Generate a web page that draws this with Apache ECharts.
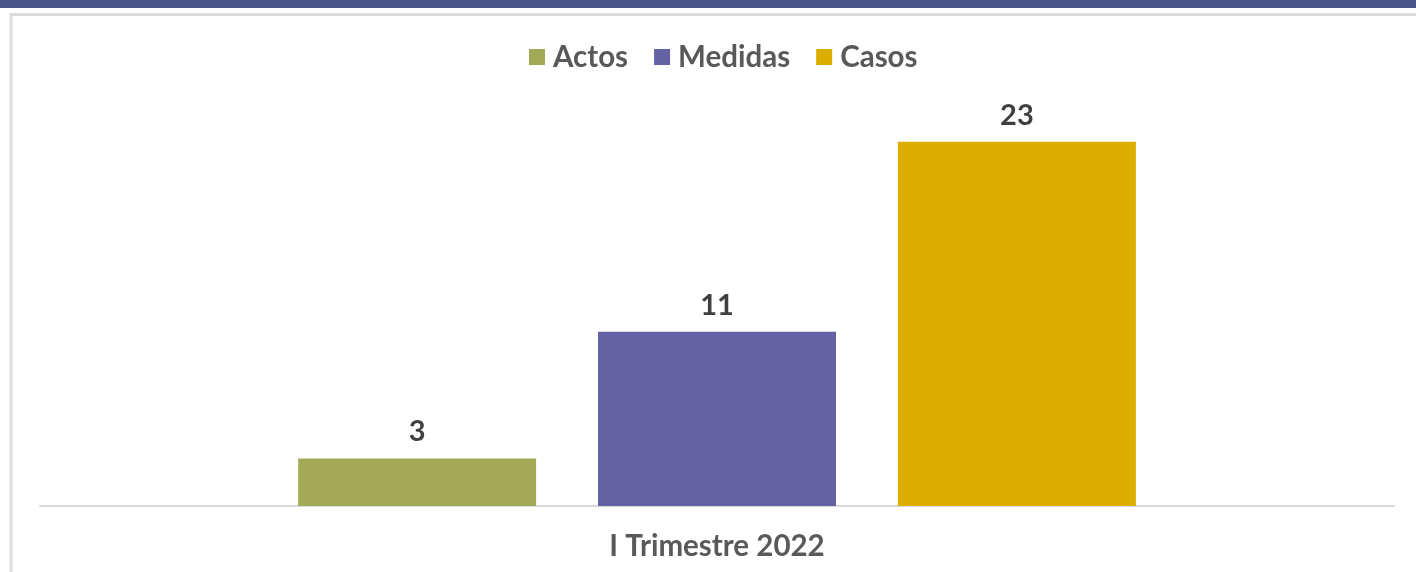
<!DOCTYPE html>
<html>
<head>
<meta charset="utf-8">
<script src="https://cdn.jsdelivr.net/npm/echarts@6/dist/echarts.min.js"></script>
<style>
html,body{margin:0;padding:0;background:#fff;}
#c{width:1416px;height:572px;}
</style>
</head>
<body>
<div id="c"></div>
<script>
const categories = ['I Trimestre 2022'];
const seriesNames = ['Actos', 'Medidas', 'Casos'];
const actos = [3];
const medidas = [11];
const casos = [23];
const colors = ['#A2AA57', '#6462A3', '#DBAE00'];

const chart = echarts.init(document.getElementById('c'));
const font = 'Lato, "Open Sans", sans-serif';
const values = [actos, medidas, casos];
chart.setOption({
  animation: false,
  graphic: [
    {type: 'rect', shape: {x: 0, y: 0, width: 1416, height: 8}, style: {fill: '#4B5488'}},
    {type: 'rect', shape: {x: 11, y: 14.5, width: 1430, height: 600}, style: {fill: 'none', stroke: '#dcdcdc', lineWidth: 3}}
  ],
  legend: {
    top: 37,
    left: 524,
    itemWidth: 16,
    itemHeight: 16,
    itemGap: 26,
    icon: 'rect',
    textStyle: {fontFamily: font, fontSize: 29.5, fontWeight: 'bold', color: '#595959', padding: [0, 0, 0, 3]},
    data: seriesNames
  },
  grid: {left: 40, right: 22, top: 110, bottom: 66, containLabel: false},
  xAxis: {
    type: 'category',
    data: categories,
    axisLine: {lineStyle: {color: '#d9d9d9', width: 2}},
    axisTick: {show: false},
    axisLabel: {fontFamily: font, fontSize: 29.5, fontWeight: 'bold', color: '#595959', margin: 25}
  },
  yAxis: {type: 'value', min: 0, max: 25, show: false, splitLine: {show: false}},
  series: seriesNames.map((n, i) => ({
    name: n,
    type: 'bar',
    data: values[i],
    barWidth: 238,
    barGap: '26%',
    itemStyle: {color: colors[i]},
    label: {show: true, position: 'top', distance: 12, fontFamily: font, fontSize: 29, fontWeight: 'bold', color: '#404040'}
  }))
});
</script>
</body>
</html>
